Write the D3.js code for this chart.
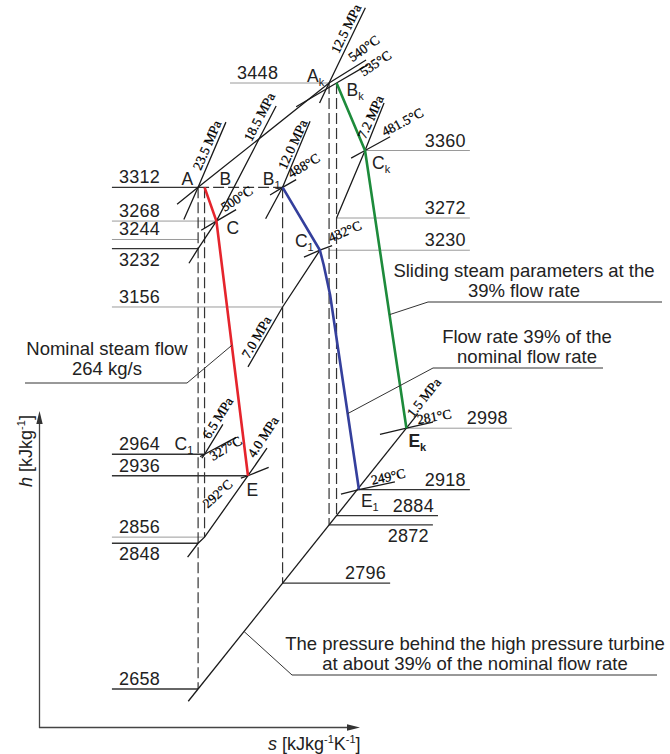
<!DOCTYPE html>
<html>
<head>
<meta charset="utf-8">
<script src="https://cdn.jsdelivr.net/npm/d3@7"></script>
<style>
  html, body { margin: 0; padding: 0; background: #fff; }
  svg { display: block; }
  text { font-family: "Liberation Sans", Arial, sans-serif; fill: #222; }
  .serif { font-family: "Liberation Serif", "Times New Roman", serif; fill: #000; }
</style>
</head>
<body>
<svg id="chart" width="670" height="754"></svg>
<script>
// ---------- steam states on the h–s chart (s in kJ/kg·K, h in kJ/kg) ----------
const stateId = ["A", "B", "B1", "C", "C1", "Ak", "Bk", "Ck", "E", "E1", "Ek", "C11"];
const stateS  = [6.186, 6.205, 6.435, 6.240, 6.545, 6.572, 6.594, 6.678, 6.333, 6.660, 6.800, 6.205];
const stateH  = [3312, 3312, 3312, 3268, 3230, 3448, 3448, 3360, 2936, 2918, 2998, 2964];

// expansion lines through the HP turbine
const nominalPath = ["B", "C", "E"];                                   // nominal flow 264 kg/s
const partialPath = ["B1", "C1", [6.556, 3211], [6.575, 3172], "E1"];  // 39 % flow, throttled
const slidingPath = ["Bk", "Ck", "Ek"];                                // 39 % flow, sliding pressure

// enthalpy levels: value, entropy where the line starts and ends
const levelH    = [3448, 3360, 3312, 3272, 3268, 3244, 3232, 3230, 3156, 2998, 2964, 2936, 2918, 2884, 2872, 2856, 2848, 2796, 2658];
const levelFrom = [6.280, 6.678, 5.932, 6.594, 5.932, 5.932, 5.932, 6.572, 5.932, 6.800, 5.932, 5.932, 6.660, 6.594, 6.572, 5.932, 5.932, 6.435, 5.932];
const levelTo   = [6.572, 6.987, 6.186, 6.987, 6.240, 6.186, 6.186, 6.987, 6.435, 7.111, 6.205, 6.333, 6.987, 6.893, 6.878, 6.205, 6.186, 6.752, 6.186];

// isentropes (vertical dashed) from a state down to an enthalpy level
const isentropeFrom = ["A", "B", "B1", "Ak", "Bk"];
const isentropeTo   = [2658, 2856, 2796, 2872, 2884];
const throttleLine  = ["A", "B1"];   // dashed at h = 3312

// isobars and isotherms
const isoNames = ["23.5 MPa", "18.5 MPa", "12.5 MPa", "12.0 MPa", "7.2 MPa", "7.0 MPa", "6.5 MPa", "4.0 MPa", "1.5 MPa",
                  "540°C", "535°C", "500°C", "488°C", "481.5°C", "432°C", "327°C", "292°C", "281°C", "249°C"];
const isoPoints = [
  [[6.144, 3270], "A", [6.268, 3397]],
  [[6.159, 3213], [6.186, 3232], "C", [6.416, 3418]],
  [[6.544, 3422], "Ak", [6.679, 3546]],
  [[6.385, 3271], "B1", [6.516, 3398]],
  [[6.594, 3272], "Ck", [6.734, 3422]],
  [[6.333, 3078], [6.435, 3156], "C1"],
  [[6.197, 2959], "C11", [6.259, 3003]],
  [[6.155, 2830], [6.186, 2848], [6.205, 2856], "E", [6.389, 2972]],
  [[6.157, 2642], [6.834, 3017]],
  [[6.124, 3290], "A", "Ak", [6.681, 3478]],
  [[6.475, 3417], "Bk", [6.687, 3472]],
  [[6.195, 3256], "C", [6.298, 3283]],
  [[6.398, 3302], "B1", [6.475, 3322]],
  [[6.637, 3350], "Ck", [6.752, 3378]],
  [[6.498, 3221], "C1", [6.581, 3236]],
  [[6.192, 2961], "C11", [6.298, 2986]],
  [[6.312, 2933], "E", [6.394, 2947]],
  [[6.722, 2990], "Ek", [6.878, 3006]],
  [[6.607, 2912], "E1", [6.766, 2928]]
];

// call-out texts and the curve each one points at (enthalpy of the pointer)
const noteLines = [
  ["Nominal steam flow", "264 kg/s"],
  ["Sliding steam parameters at the", "39% flow rate"],
  ["Flow rate 39% of the", "nominal flow rate"],
  ["The pressure behind the high pressure turbine", "at about 39% of the nominal flow rate"]
];
const noteCurve = [nominalPath, slidingPath, partialPath, isoPoints[8]];
const noteH     = [3106, 3146, 3017, 2733];

// ---------- scales ----------
const x = d3.scaleLinear().domain([5.72, 7.40]).range([40, 610]);
const y = d3.scaleLinear().domain([2658, 3448]).range([689, 83]);

const P = p => {
  if (typeof p === "string") { const i = stateId.indexOf(p); return [stateS[i], stateH[i]]; }
  return p;
};
const px = p => { const q = P(p); return [x(q[0]), y(q[1])]; };
const line = d3.line().x(d => x(P(d)[0])).y(d => y(P(d)[1]));

function sAtH(pts, h) {
  for (let i = 0; i < pts.length - 1; i++) {
    const a = P(pts[i]), b = P(pts[i + 1]);
    if ((h - a[1]) * (h - b[1]) <= 0 && a[1] !== b[1]) {
      return a[0] + (h - a[1]) / (b[1] - a[1]) * (b[0] - a[0]);
    }
  }
  return P(pts[0])[0];
}

const svg = d3.select("#chart");
const ink = "#1a1a1a";

// ---------- enthalpy level lines and their values ----------
const lightLevels = [3448, 3360, 3272, 3268, 3244, 3230, 3156, 2998, 2856];
const labelBelow  = [3232, 2848, 2872];
const labelAtEnd  = [3360, 3272, 3230, 2998, 2918, 2884, 2872, 2796];

svg.append("g").selectAll("line").data(levelH).join("line")
  .attr("x1", (h, i) => x(levelFrom[i])).attr("x2", (h, i) => x(levelTo[i]))
  .attr("y1", h => y(h)).attr("y2", h => y(h))
  .attr("stroke", h => lightLevels.includes(h) ? "#9a9a9a" : "#333")
  .attr("stroke-width", h => lightLevels.includes(h) ? 1 : 1.3);

svg.append("g").selectAll("text").data(levelH).join("text")
  .attr("font-size", 18).attr("letter-spacing", 0.3)
  .attr("text-anchor", h => labelAtEnd.includes(h) ? "end" : "start")
  .attr("x", (h, i) => labelAtEnd.includes(h) ? x(levelTo[i]) - 4 : x(levelFrom[i]) + 7)
  .attr("y", h => labelBelow.includes(h) ? y(h) + 17 : y(h) - 4)
  .text(h => h);

// ---------- dashed isentropes and throttling line ----------
const dash = svg.append("g").attr("stroke", "#333").attr("stroke-width", 1.2)
  .attr("stroke-dasharray", "11,4").attr("fill", "none");
isentropeFrom.forEach((id, i) => {
  const top = P(id);
  dash.append("path").attr("d", line([top, [top[0], isentropeTo[i]]]));
});
dash.append("path").attr("d", line(throttleLine));

// ---------- isobars / isotherms ----------
svg.append("g").selectAll("path").data(isoPoints).join("path")
  .attr("d", d => line(d)).attr("fill", "none")
  .attr("stroke", ink).attr("stroke-width", 1.3);

// ---------- expansion lines ----------
const expansions = [
  { pts: nominalPath, color: "#e5242c" },
  { pts: partialPath, color: "#343f9c" },
  { pts: slidingPath, color: "#1d8b3b" }
];
svg.append("g").selectAll("path").data(expansions).join("path")
  .attr("d", d => line(d.pts)).attr("fill", "none")
  .attr("stroke", d => d.color).attr("stroke-width", 2.6)
  .attr("stroke-linejoin", "round");

// ---------- labels along isolines (anchor state, angle, distance along, offset across) ----------
const isoLabelLayout = {
  "12.5 MPa": ["Ak", -64, 30, 4],
  "540°C":    ["Ak", -36, 31, 3],
  "535°C":    ["Bk", -34, 26, -10],
  "23.5 MPa": ["A", -66.5, 16, 4],
  "18.5 MPa": ["C", -62.7, 86, 5],
  "12.0 MPa": ["B1", -65.5, 17, 4],
  "7.2 MPa":  ["Ck", -66, 10, 4],
  "488°C":    ["B1", -31, 12, 3],
  "500°C":    ["C", -33, 12, 3],
  "481.5°C":  ["Ck", -28, 24, 3],
  "432°C":    ["C1", -23, 13, 3],
  "7.0 MPa":  [[6.435, 3156], -60, -62, 3],
  "6.5 MPa":  ["C11", -58, 15, 3.5],
  "327°C":    ["C11", -30, 4, -10],
  "4.0 MPa":  ["E", -57, 18, 4],
  "292°C":    ["E", -42, -52, 2.5],
  "249°C":    ["E1", -12, 14, 2],
  "281°C":    ["Ek", -10, 12, 2],
  "1.5 MPa":  ["Ek", -51.3, 12, 1]
};
const isoLab = svg.append("g");
isoNames.forEach(name => {
  const [at, ang, d, n] = isoLabelLayout[name];
  const [x0, y0] = px(at);
  const t = ang * Math.PI / 180;
  const lx = x0 + d * Math.cos(t) + n * Math.sin(t);
  const ly = y0 + d * Math.sin(t) - n * Math.cos(t);
  isoLab.append("text").attr("class", "serif").attr("font-size", 13.5)
    .attr("stroke", "#000").attr("stroke-width", 0.25)
    .attr("transform", `translate(${lx},${ly}) rotate(${ang})`)
    .text(name);
});

// ---------- state letters ----------
const stateLetter = { A: ["A", ""], B: ["B", ""], B1: ["B", "1"], C: ["C", ""], C1: ["C", "1"], Ak: ["A", "k"],
                      Bk: ["B", "k"], Ck: ["C", "k"], E: ["E", ""], E1: ["E", "1"], Ek: ["E", "k"], C11: ["C", "1"] };
const stateLetterLayout = {
  A: [-5, -2, "end"], B: [15, -2, "start"], B1: [-2, -2, "end"], C: [10, 13, "start"],
  C1: [-25, -3, "start"], Ak: [-22, -1, "start"], Bk: [10, 13, "start"], Ck: [7, 18, "start"],
  E: [-1.5, 20, "start"], E1: [2, 17, "start"], Ek: [2, 19, "start"], C11: [-30, -4, "start"]
};
const letters = svg.append("g");
stateId.forEach(id => {
  const [x0, y0] = px(id);
  const [dx, dy, anchor] = stateLetterLayout[id];
  const t = letters.append("text").attr("font-size", 17.5)
    .attr("x", x0 + dx).attr("y", y0 + dy).attr("text-anchor", anchor)
    .attr("font-weight", id === "Ek" ? "bold" : null);
  t.append("tspan").text(stateLetter[id][0]);
  if (stateLetter[id][1]) t.append("tspan").attr("font-size", 11).attr("dy", 4).text(stateLetter[id][1]);
});

// ---------- call-outs ----------
const noteLayout = [
  { elbow: [187, 383], end: 25,  cx: 107, base: [355, 375] },
  { elbow: [428, 302], end: 662, cx: 524, base: [277, 297] },
  { elbow: [433, 368], end: 603, cx: 527, base: [343, 363] },
  { elbow: [292, 675], end: 657, cx: 475, base: [650, 670] }
];
const notes = svg.append("g");
noteLines.forEach((lines, i) => {
  const L = noteLayout[i];
  const h = noteH[i];
  const s = sAtH(noteCurve[i], h);
  notes.append("path")
    .attr("d", d3.line()([[x(s), y(h)], L.elbow, [L.end, L.elbow[1]]]))
    .attr("fill", "none").attr("stroke", "#333").attr("stroke-width", 1);
  lines.forEach((txt, k) => {
    notes.append("text").attr("font-size", 18.5).attr("text-anchor", "middle")
      .attr("x", L.cx).attr("y", L.base[k]).text(txt);
  });
});

// ---------- axes ----------
const ax = svg.append("g").attr("stroke", "#444").attr("stroke-width", 1.3);
ax.append("line").attr("x1", 39.5).attr("x2", 39.5).attr("y1", 728).attr("y2", 420);
ax.append("line").attr("x1", 39).attr("x2", 350).attr("y1", 727.5).attr("y2", 727.5);
svg.append("path").attr("d", "M39.5,411 L36.3,424 L42.7,424 Z").attr("fill", "#333");
svg.append("path").attr("d", "M360,727.5 L347,724.3 L347,730.7 Z").attr("fill", "#333");

const hl = svg.append("text").attr("font-size", 18).attr("text-anchor", "middle")
  .attr("transform", "translate(32,451) rotate(-90)");
hl.append("tspan").attr("font-style", "italic").text("h");
hl.append("tspan").text(" [kJkg");
hl.append("tspan").attr("font-size", 11).attr("dy", -7).text("-1");
hl.append("tspan").attr("dy", 7).text("]");

const sl = svg.append("text").attr("font-size", 18).attr("x", 268).attr("y", 750);
sl.append("tspan").attr("font-style", "italic").text("s");
sl.append("tspan").text(" [kJkg");
sl.append("tspan").attr("font-size", 11).attr("dy", -7).text("-1");
sl.append("tspan").attr("dy", 7).text("K");
sl.append("tspan").attr("font-size", 11).attr("dy", -7).text("-1");
sl.append("tspan").attr("dy", 7).text("]");
</script>
</body>
</html>
